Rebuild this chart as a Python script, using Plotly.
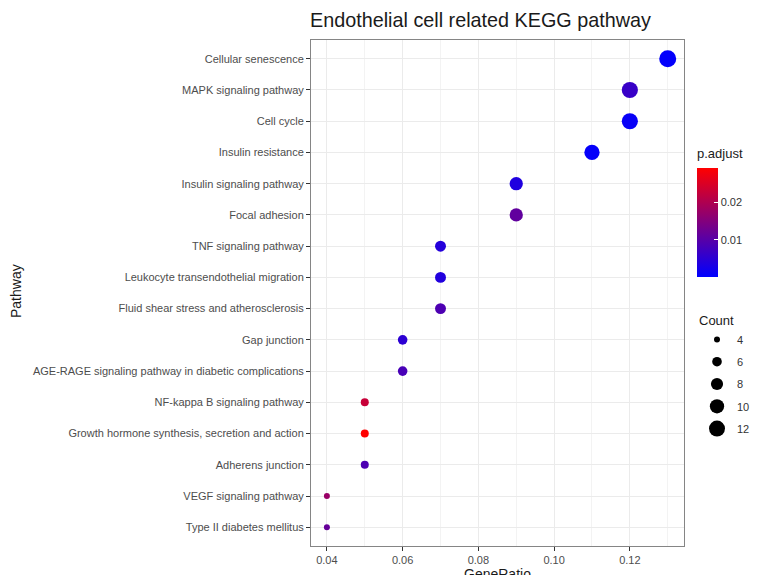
import plotly.graph_objects as go
import math

pathways = [
    "Cellular senescence",
    "MAPK signaling pathway",
    "Cell cycle",
    "Insulin resistance",
    "Insulin signaling pathway",
    "Focal adhesion",
    "TNF signaling pathway",
    "Leukocyte transendothelial migration",
    "Fluid shear stress and atherosclerosis",
    "Gap junction",
    "AGE-RAGE signaling pathway in diabetic complications",
    "NF-kappa B signaling pathway",
    "Growth hormone synthesis, secretion and action",
    "Adherens junction",
    "VEGF signaling pathway",
    "Type II diabetes mellitus",
]
gene_ratio = [0.13, 0.12, 0.12, 0.11, 0.09, 0.09, 0.07, 0.07, 0.07, 0.06, 0.06, 0.05, 0.05, 0.05, 0.04, 0.04]
counts = [13, 12, 12, 11, 9, 9, 7, 7, 7, 6, 6, 5, 5, 5, 4, 4]
p_adjust = [0.0003, 0.0064, 0.0009, 0.0006, 0.0035, 0.0111, 0.0041, 0.0038, 0.0088,
            0.0050, 0.0082, 0.0228, 0.0292, 0.0088, 0.0175, 0.0117]

legend_counts = [4, 6, 8, 10, 12]
x_ticks = [0.04, 0.06, 0.08, 0.10, 0.12]
x_ticklabels = ["0.04", "0.06", "0.08", "0.10", "0.12"]
cbar_ticks = [0.01, 0.02]
cbar_ticklabels = ["0.01", "0.02"]

W, H = 758, 575


def diam(c):
    # ggplot-like area scaling
    return math.sqrt(36 + (c - 4) * 28.1)


colorscale = [[0.0, "#0000FF"], [1.0, "#FF0000"]]

# plot area in pixels: x 311..684, y 40..546
PL, PR, PT, PB = 311, 684, 40, 546
PW, PH = PR - PL, PB - PT


def px_y(py):
    return (PB - py) / PH


def px_x(px):
    return (px - PL) / PW


fig = go.Figure()
fig.add_trace(go.Scatter(
    x=gene_ratio, y=pathways, mode="markers",
    marker=dict(size=[diam(c) for c in counts], color=p_adjust, colorscale=colorscale,
                cmin=0.0, cmax=0.0292, line=dict(width=0), opacity=1,
                colorbar=dict(
                    xref="container", yref="container",
                    x=697 / W, xanchor="left", y=1 - 191 / H, yanchor="top",
                    len=109, lenmode="pixels", thickness=21, thicknessmode="pixels",
                    outlinewidth=0, tickvals=cbar_ticks, ticktext=cbar_ticklabels,
                    ticks="inside", ticklen=4, tickcolor="white",
                    tickfont=dict(size=11, color="#333333"), xpad=0, ypad=0)),
    showlegend=False, hoverinfo="x+y",
))

for i, c in enumerate(legend_counts):
    fig.add_trace(go.Scatter(
        x=[None], y=[None], mode="markers", name=str(c),
        marker=dict(size=diam(c), color="black"),
        legendgroup="g%d" % i, showlegend=True,
    ))

fig.update_layout(
    width=W, height=H,
    margin=dict(l=PL, r=W - PR, t=PT, b=H - PB),
    paper_bgcolor="white", plot_bgcolor="white",
    font=dict(family="Liberation Sans, Arial, sans-serif"),
    title=dict(text="Endothelial cell related KEGG pathway", x=310 / W, xanchor="left",
               y=1 - 20 / H, yanchor="middle", font=dict(size=19.8, color="#1a1a1a")),
    legend=dict(title=dict(text="Count", font=dict(size=13, color="#1a1a1a")),
                xref="container", yref="container",
                x=697 / W, xanchor="left", y=1 - 308 / H, yanchor="top",
                itemsizing="trace", font=dict(size=11, color="#333333"),
                tracegroupgap=3.3, bgcolor="rgba(0,0,0,0)"),
    xaxis=dict(range=[0.0358, 0.1343], tickvals=x_ticks, ticktext=x_ticklabels,
               showgrid=True, gridcolor="#EBEBEB", gridwidth=1.1,
               minor=dict(dtick=0.01, tick0=0.03, showgrid=True, gridcolor="#F3F3F3", gridwidth=0.8),
               ticks="outside", ticklen=4, tickcolor="#333333",
               tickfont=dict(size=11, color="#4D4D4D"), automargin=False,
               showline=True, linecolor="#858585", mirror=True, zeroline=False),
    yaxis=dict(categoryorder="array", categoryarray=pathways[::-1], range=[-0.6, 15.6],
               showgrid=True, gridcolor="#EBEBEB", gridwidth=1.1,
               ticks="outside", ticklen=4, tickcolor="#333333",
               tickfont=dict(size=11, color="#4D4D4D"), automargin=False,
               showline=True, linecolor="#858585", mirror=True, zeroline=False),
    annotations=[
        dict(text="GeneRatio", x=0.5, xref="paper", y=0, yref="paper",
             xanchor="center", yanchor="top", yshift=-18, showarrow=False,
             font=dict(size=14, color="#1a1a1a")),
        dict(text="Pathway", x=px_x(16), xref="paper", xanchor="center", y=px_y(291), yref="paper",
             showarrow=False, textangle=-90, font=dict(size=14, color="#1a1a1a")),
        dict(text="p.adjust", x=px_x(695), xref="x domain", xanchor="left", y=px_y(153), yref="y domain",
             yanchor="middle", showarrow=False, font=dict(size=13, color="#1a1a1a")),
    ],
)

fig.write_html("out.html", config={"displayModeBar": False},
               post_script="document.body.style.margin='0px';document.body.style.overflow='hidden';")
